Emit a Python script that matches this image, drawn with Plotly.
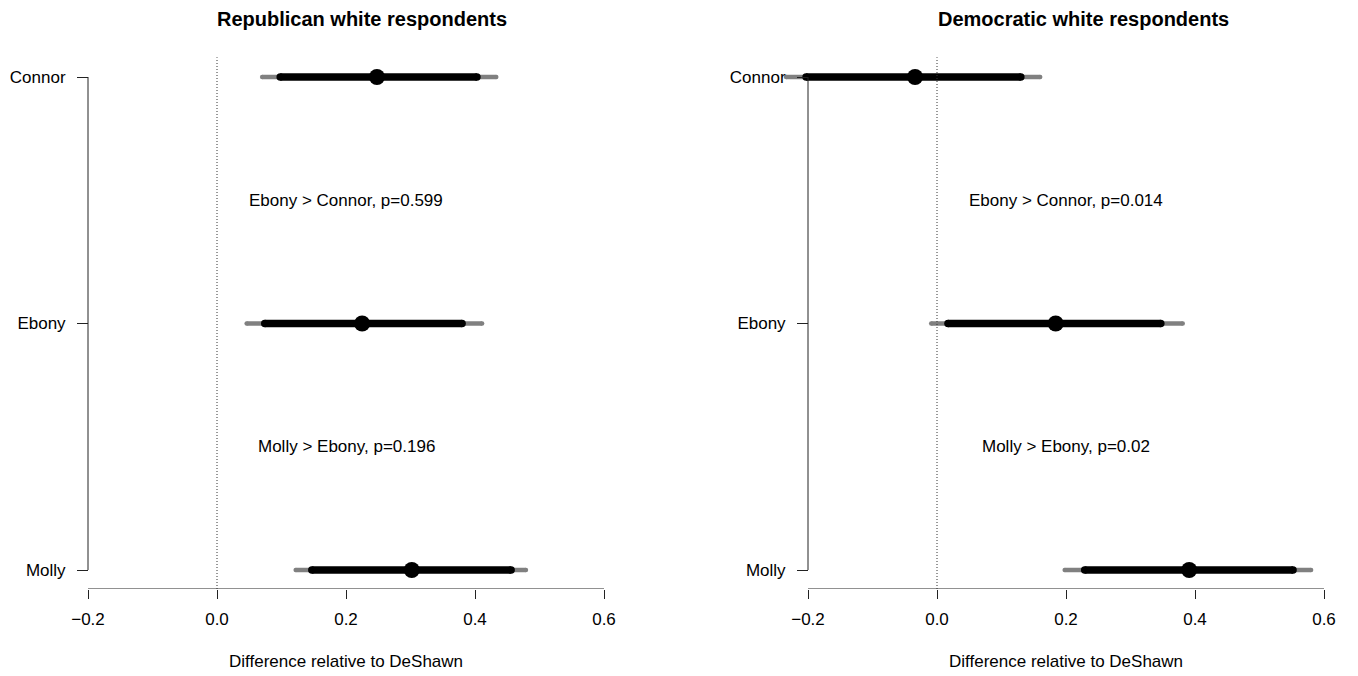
import plotly.graph_objects as go

# ---------------- data ----------------
names = ["Connor", "Ebony", "Molly"]

rep_est = [0.248, 0.225, 0.302]
rep_lo_inner = [0.098, 0.074, 0.147]
rep_hi_inner = [0.403, 0.380, 0.456]
rep_lo_outer = [0.070, 0.046, 0.122]
rep_hi_outer = [0.433, 0.411, 0.479]

dem_est = [-0.034, 0.184, 0.391]
dem_lo_inner = [-0.203, 0.017, 0.229]
dem_hi_inner = [0.130, 0.347, 0.552]
dem_lo_outer = [-0.234, -0.009, 0.198]
dem_hi_outer = [0.160, 0.381, 0.580]

rep_notes = ["Ebony > Connor, p=0.599", "Molly > Ebony, p=0.196"]
dem_notes = ["Ebony > Connor, p=0.014", "Molly > Ebony, p=0.02"]

titles = ["Republican white respondents", "Democratic white respondents"]
x_title = "Difference relative to DeShawn"
xticks = [-0.2, 0.0, 0.2, 0.4, 0.6]
xtick_text = ["\u22120.2", "0.0", "0.2", "0.4", "0.6"]

# ---------------- layout geometry ----------------
# the page body has an 8px margin; work in screen pixels and shift
OFF = 8
SW, SH = 1358, 676          # screen size
W, H = SW - OFF, SH - OFF   # figure size


def fx(px):   # screen x pixel -> paper fraction
    return (px - OFF) / W


def fy(py):   # screen y pixel (from top) -> paper fraction
    return 1 - (py - OFF) / H


FONT = "Liberation Sans, Arial, Helvetica, sans-serif"
XR = [-0.24, 0.64]
PXU = 645.0
zero_px = [217.0, 937.0]
Y_TOP_PX, Y_BOT_PX, AXIS_PX = 77.0, 570.0, 589.0
PYU = (Y_BOT_PX - Y_TOP_PX) / 2.0
YLO = 1 - (AXIS_PX - Y_BOT_PX) / PYU
YHI = 3.1
ydom = [fy(AXIS_PX), fy(Y_TOP_PX - (YHI - 3) * PYU)]

pos = [len(names) - i for i in range(len(names))]

fig = go.Figure()

panels = [
    (rep_est, rep_lo_inner, rep_hi_inner, rep_lo_outer, rep_hi_outer, rep_notes),
    (dem_est, dem_lo_inner, dem_hi_inner, dem_lo_outer, dem_hi_outer, dem_notes),
]

GRAY_W, BLACK_W = 4.5, 7.5
shapes = []
annotations = []
for k, (est, li, hi, lo, ho, notes) in enumerate(panels):
    xa = "x" if k == 0 else "x2"
    ya = "y" if k == 0 else "y2"
    for i in range(len(names)):
        fig.add_trace(go.Scatter(x=[lo[i], ho[i]], y=[pos[i], pos[i]], mode="lines+markers",
                                 line=dict(color="#808080", width=GRAY_W),
                                 marker=dict(color="#808080", size=GRAY_W),
                                 xaxis=xa, yaxis=ya, showlegend=False, hoverinfo="skip"))
        fig.add_trace(go.Scatter(x=[li[i], hi[i]], y=[pos[i], pos[i]], mode="lines+markers",
                                 line=dict(color="black", width=BLACK_W),
                                 marker=dict(color="black", size=BLACK_W),
                                 xaxis=xa, yaxis=ya, showlegend=False, hoverinfo="skip"))
    fig.add_trace(go.Scatter(x=est, y=pos, mode="markers",
                             marker=dict(color="black", size=16),
                             xaxis=xa, yaxis=ya, showlegend=False))
    # dotted zero line
    shapes.append(dict(type="line", xref=xa, yref=ya, x0=0, x1=0, y0=YLO, y1=3.08,
                       line=dict(color="#333333", width=1, dash="1px,2px")))
    # x axis line (from first to last tick)
    shapes.append(dict(type="line", xref=xa, yref=ya, x0=xticks[0], x1=xticks[-1],
                       y0=YLO, y1=YLO, line=dict(color="#222222", width=1)))
    # y axis line (from first to last category)
    shapes.append(dict(type="line", xref=xa, yref=ya, x0=xticks[0], x1=xticks[0],
                       y0=min(pos), y1=max(pos), line=dict(color="#222222", width=1)))
    # notes between categories
    for j, t in enumerate(notes):
        annotations.append(dict(x=0.2, y=(pos[j] + pos[j + 1]) / 2, xref=xa, yref=ya,
                                text=t, showarrow=False, xanchor="center", yanchor="middle",
                                font=dict(size=17, color="black", family=FONT)))
    # axis title
    annotations.append(dict(x=0.2, y=fy(661), xref=xa, yref="paper",
                            text=x_title, showarrow=False, xanchor="center", yanchor="middle",
                            borderpad=0,
                            font=dict(size=17, color="black", family=FONT)))

# titles
for t, cx in zip(titles, [362, 1083]):
    annotations.append(dict(x=fx(cx), y=fy(19), xref="paper", yref="paper",
                            text="<b>" + t + "</b>", showarrow=False,
                            xanchor="center", yanchor="middle", borderpad=0,
                            font=dict(size=20, color="black", family=FONT)))


def xdom(z):
    return [fx(z + XR[0] * PXU), fx(z + XR[1] * PXU)]


xcommon = dict(range=XR, showgrid=False, zeroline=False, showline=False,
               tickmode="array", tickvals=xticks, ticktext=xtick_text,
               ticks="outside", ticklen=9, tickcolor="#222222", tickwidth=1,
               ticklabelstandoff=6,
               tickfont=dict(size=17, color="black", family=FONT))
ycommon = dict(range=[YLO, YHI], domain=ydom, showgrid=False, zeroline=False,
               showline=False, tickmode="array", tickvals=pos, ticktext=names,
               ticks="outside", ticklen=11, tickcolor="#222222", tickwidth=1,
               ticklabelstandoff=8, anchor="free",
               tickfont=dict(size=17, color="black", family=FONT))

fig.update_layout(
    width=W, height=H,
    margin=dict(l=0, r=0, t=0, b=0),
    paper_bgcolor="white", plot_bgcolor="white",
    xaxis=dict(xcommon, domain=xdom(zero_px[0]), anchor="y"),
    xaxis2=dict(xcommon, domain=xdom(zero_px[1]), anchor="y2"),
    yaxis=dict(ycommon, position=fx(zero_px[0] + xticks[0] * PXU)),
    yaxis2=dict(ycommon, position=fx(zero_px[1] + xticks[0] * PXU)),
    shapes=shapes, annotations=annotations,
)

fig.write_html("out.html")
